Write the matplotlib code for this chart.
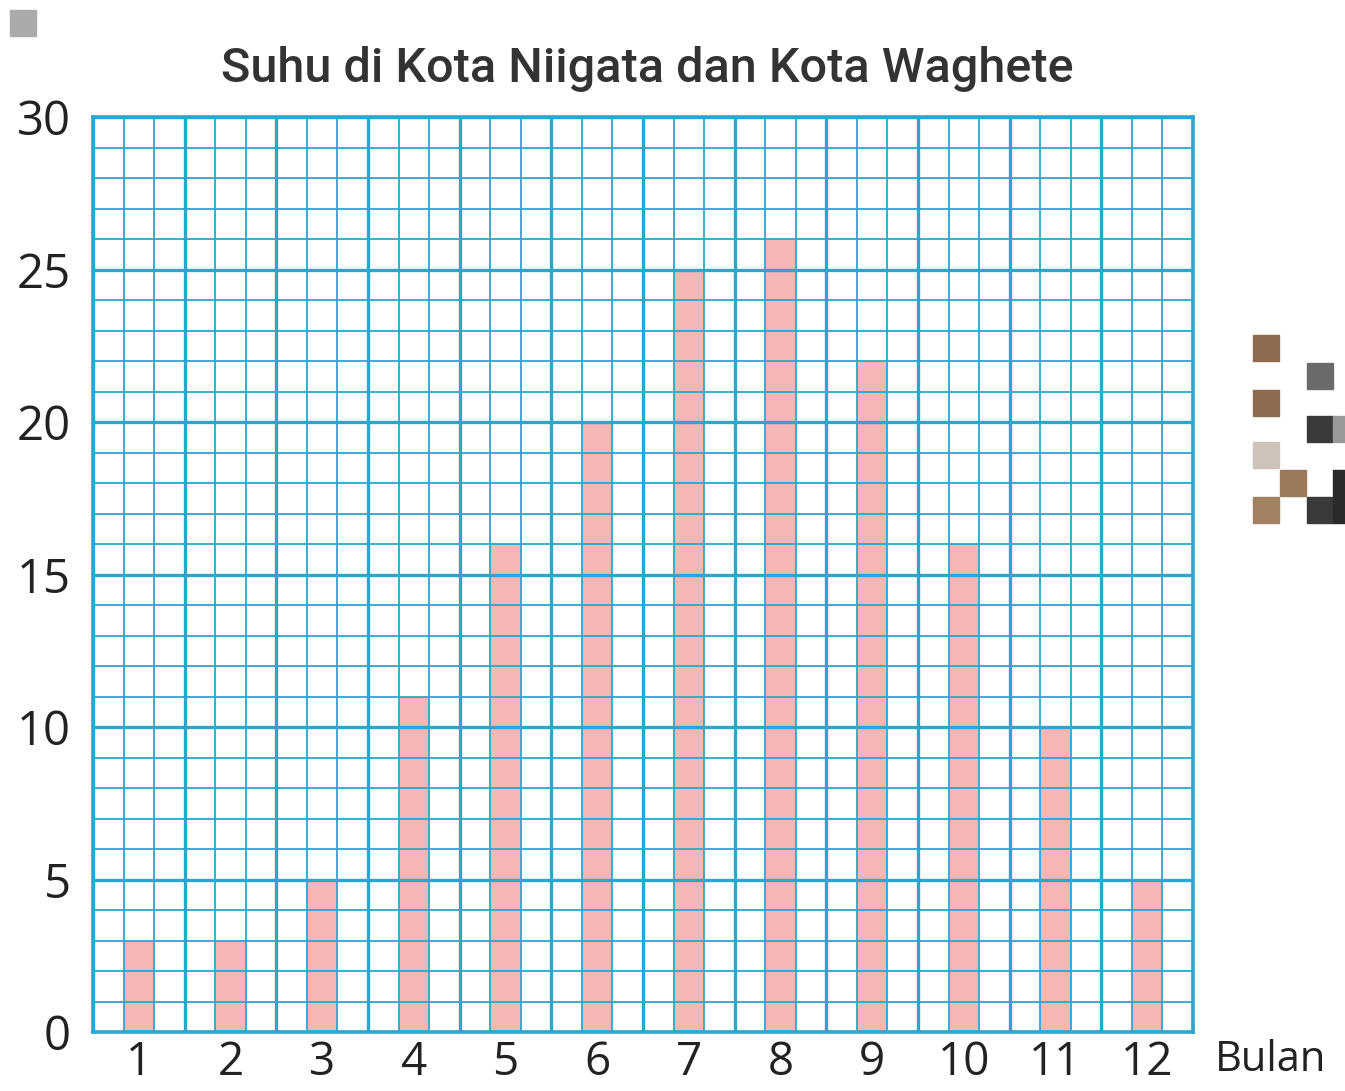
import numpy as np
import matplotlib.pyplot as plt

# data
months = [1, 2, 3, 4, 5, 6, 7, 8, 9, 10, 11, 12]
month_labels = ["1", "2", "3", "4", "5", "6", "7", "8", "9", "10", "11", "12"]
temps = [3, 3, 5, 11, 16, 20, 25, 26, 22, 16, 10, 5]
y_ticks = [0, 5, 10, 15, 20, 25, 30]

grid_color = "#2ba6cf"
bar_color = "#f4b6b6"
font = ["Open Sans", "DejaVu Sans"]

fig = plt.figure(figsize=(13.45, 10.91), dpi=100)
ax = fig.add_axes([93 / 1345, 59 / 1091, 1100 / 1345, 915 / 1091])

ax.bar(months, temps, width=1 / 3, color=bar_color, zorder=1)

ax.set_xlim(0.5, 12.5)
ax.set_ylim(0, 30)

# grid: thin lines every 1/3 month and every degree, thicker every month / 5 degrees
for x in np.arange(0.5, 12.6, 1 / 3):
    major = abs(x - round(x - 0.5) - 0.5) < 1e-6
    ax.axvline(x, color=grid_color, lw=2.4 if major else 1.3, zorder=2)
for y in range(0, 31):
    ax.axhline(y, color=grid_color, lw=2.4 if y % 5 == 0 else 1.3, zorder=2)

for s in ax.spines.values():
    s.set_color(grid_color)
    s.set_linewidth(2.6)

ax.set_xticks(months)
ax.set_xticklabels(month_labels, family=font, fontsize=33, color="#222222")
ax.set_yticks(y_ticks)
ax.set_yticklabels([str(v) for v in y_ticks], family=font, fontsize=34, color="#222222")
ax.tick_params(length=0)
ax.tick_params(axis="y", pad=16)
ax.tick_params(axis="x", pad=6)

fig.text(0.481, 0.937, "Suhu di Kota Niigata dan Kota Waghete", ha="center", va="center",
         family=["Roboto", "DejaVu Sans"], fontsize=35, weight="medium", color="#333333")
fig.text(0.903, 0.028, "Bulan", ha="left", va="center", family=font, fontsize=30, color="#222222")

# pixelated decoration on the right and top-left
deco = [(1253, 335, "#8c6b4e"), (1253, 390, "#8c6b4e"), (1253, 442, "#cdc3b8"),
        (1280, 470, "#9a7a5a"), (1253, 497, "#a3805f"), (1307, 363, "#6b6b6b"),
        (1307, 416, "#3a3a3a"), (1333, 416, "#999999"), (1307, 497, "#3a3a3a"),
        (1333, 470, "#2a2a2a"), (1333, 497, "#2a2a2a"), (10, 10, "#aaaaaa")]
for px, py, c in deco:
    fig.patches.append(plt.Rectangle((px / 1345, 1 - (py + 26) / 1091), 26 / 1345, 26 / 1091,
                                     transform=fig.transFigure, color=c, figure=fig))

fig.savefig("out.png", dpi=100)
